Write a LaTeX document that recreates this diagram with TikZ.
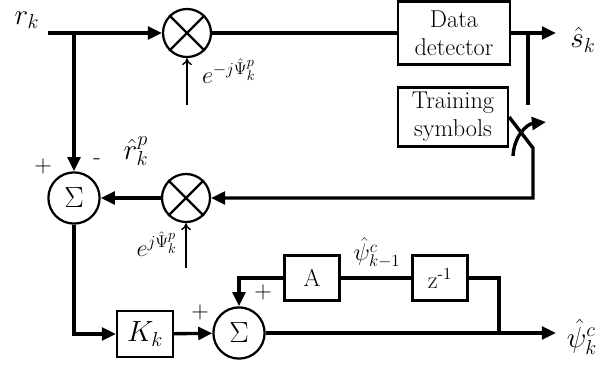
\documentclass[tikz,border=0pt]{standalone}
\usetikzlibrary{arrows.meta}
\tikzset{
  sig/.style={line width=2.4pt},
  tip/.style={-{Triangle[length=10pt,width=9pt]}},
  fine/.style={line width=1pt, -{To[length=5pt,width=7pt]}},
  blk/.style={draw, line width=1.6pt, inner sep=2pt, align=center, font=\LARGE},
  mult/.style={draw, circle, line width=1.6pt, minimum size=1.2cm, inner sep=0pt},
  sum/.style={draw, circle, line width=1.6pt, minimum size=1.28cm, inner sep=0pt, font=\huge},
  lbl/.style={inner sep=1pt, font=\huge},
}
\begin{document}
\begin{tikzpicture}[x=0.025cm, y=-0.025cm]
    \useasboundingbox (0,0) rectangle (605,370);
    % blocks
    \node[blk, minimum width=2.8cm, minimum height=1.58cm] (det) at (454,33) {Data\\[-2pt]detector};
    \node[blk, minimum width=2.75cm, minimum height=1.48cm] (train) at (453,117) {Training\\[-2pt]symbols};
    \node[mult] (mul1) at (187,33) {};
    \node[mult] (mul2) at (186,198) {};
    \node[sum] (sum1) at (74,198) {$\Sigma$};
    \node[blk, minimum width=1.4cm, minimum height=1.15cm, font=\huge] (kk) at (145,334) {$K_k$};
    \node[sum] (sum2) at (239,333) {$\Sigma$};
    \node[blk, minimum width=1.38cm, minimum height=1.12cm] (amp) at (312,278) {A};
    \node[blk, minimum width=1.38cm, minimum height=1.12cm] (dly) at (440,278) {z\textsuperscript{-1}};
    \draw[line width=1.6pt] (mul1.north west) -- (mul1.south east) (mul1.north east) -- (mul1.south west);
    \draw[line width=1.6pt] (mul2.north west) -- (mul2.south east) (mul2.north east) -- (mul2.south west);

    % free ends and bends
    \coordinate (rin) at (48,33);
    \coordinate (br) at (74,33);
    \coordinate (sout) at (556,33);
    \coordinate (swtop) at (528,105);
    \coordinate (swpiv) at (533,148);
    \coordinate (swarc) at (513,156);
    \coordinate (swtip) at (546,122);
    \coordinate (fb) at (533,198);
    \coordinate (out) at (556,333);
    \coordinate (tap) at (499,333);
    \coordinate (ph1) at (187,105);
    \coordinate (ph2) at (186,268);

    % signal paths
    \draw[sig, tip] (rin) -- (mul1);
    \draw[sig, tip] (br) -- (sum1);
    \draw[sig] (mul1) -- (det);
    \draw[sig, tip] (det) -- (sout);
    \draw[sig] (swtop |- det.east) -- (swtop);
    \draw[sig, tip] (train.east) -- (swpiv) -- (fb) -- (mul2);
    \draw[sig, tip] (swarc) .. controls (514,136) and (527,124) .. (swtip);
    \draw[sig, tip] (mul2) -- (sum1);
    \draw[sig, tip] (sum1) |- (kk);
    \draw[sig, tip] (kk) -- (sum2);
    \draw[sig, tip] (sum2) -- (out);
    \draw[sig] (tap) |- (dly);
    \draw[sig] (dly) -- (amp);
    \draw[sig, tip] (amp) -| (sum2);
    \draw[fine] (ph1) -- (mul1);
    \draw[fine] (ph2) -- (mul2);

    % labels
    \node[lbl] (rlab) at (27,20) {$r_k$};
    \node[lbl] (slab) at (583,40) {$\hat s_k$};
    \node[lbl] (plab) at (582,337) {$\hat\psi_k^c$};
    \node[lbl, font=\LARGE] (e1) at (229,71) {$e^{-j\hat\Psi_k^p}$};
    \node[lbl, font=\LARGE] (e2) at (157,244) {$e^{j\hat\Psi_k^p}$};
    \node[lbl] (rp) at (136,151) {$\hat r_k^p$};
    \node[lbl, font=\LARGE] (pk1) at (377,253) {$\hat\psi_{k-1}^c$};
    \node[font=\LARGE] (s1) at (43,166) {+};
    \node[font=\LARGE] (s2) at (97,162) {-};
    \node[font=\LARGE] (s3) at (200,312) {+};
    \node[font=\LARGE] (s4) at (263,292) {+};
\end{tikzpicture}
\end{document}
